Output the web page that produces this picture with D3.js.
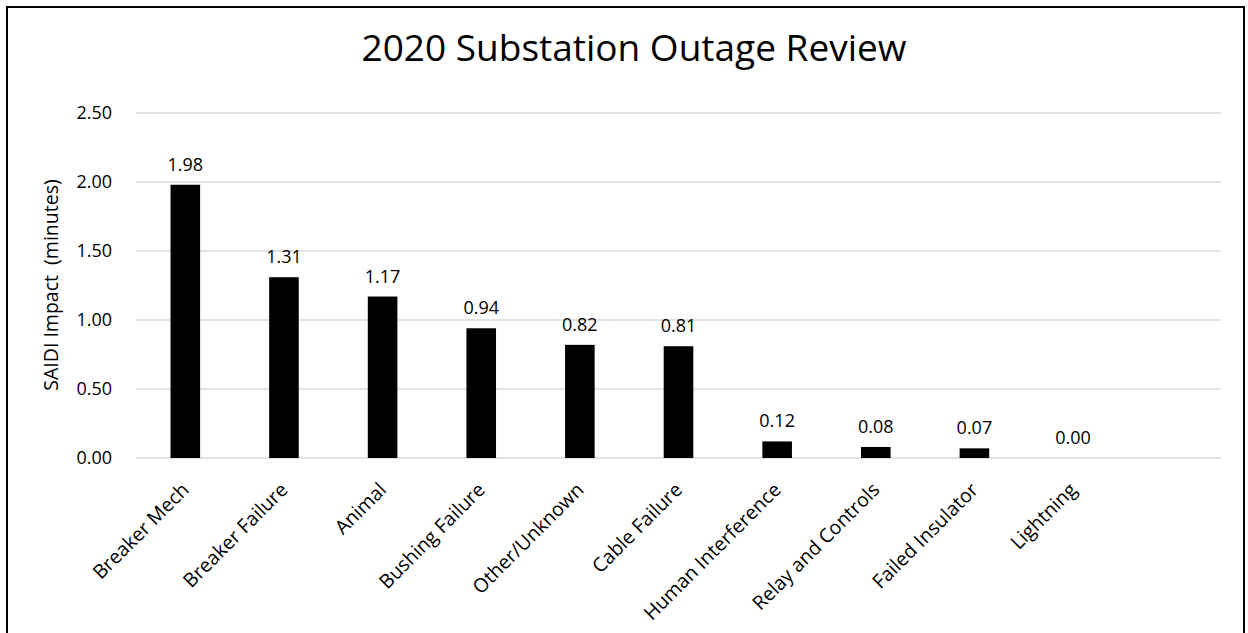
<!DOCTYPE html>
<html>
<head>
<meta charset="utf-8">
<script src="https://cdn.jsdelivr.net/npm/d3@7"></script>
<style>
  body { margin: 0; background: #fff; }
  text { font-family: "Open Sans", "Noto Sans", sans-serif; fill: #000; }
</style>
</head>
<body>
<div id="chart"></div>
<script>
// causes, in chart order; the last slot is empty in the original
const causes = ["Breaker Mech", "Breaker Failure", "Animal", "Bushing Failure", "Other/Unknown",
  "Cable Failure", "Human Interference", "Relay and Controls", "Failed Insulator", "Lightning", ""];
const saidi = [1.98, 1.31, 1.17, 0.94, 0.82, 0.81, 0.12, 0.08, 0.07, 0.00, null];
const yTicks = [0, 0.5, 1, 1.5, 2, 2.5];

const width = 1248, height = 633;
const margin = { top: 113, right: 27, bottom: 175, left: 136 };

const svg = d3.select("#chart").append("svg")
  .attr("width", width)
  .attr("height", height);

// frame round the chart
svg.append("rect")
  .attr("x", 7).attr("y", 7)
  .attr("width", 1237).attr("height", 640)
  .attr("fill", "none")
  .attr("stroke", "#000")
  .attr("stroke-width", 2);

const x = d3.scaleBand()
  .domain(d3.range(causes.length))
  .range([margin.left, width - margin.right])
  .paddingInner(0.7)
  .paddingOuter(0.35);

const y = d3.scaleLinear()
  .domain([0, 2.5])
  .range([height - margin.bottom, margin.top]);

// gridlines
svg.append("g")
  .selectAll("line")
  .data(yTicks)
  .join("line")
  .attr("x1", margin.left)
  .attr("x2", width - margin.right)
  .attr("y1", d => y(d))
  .attr("y2", d => y(d))
  .attr("stroke", "#d9d9d9")
  .attr("stroke-width", 1.5);

// y axis labels
svg.append("g")
  .attr("transform", `translate(${margin.left}, 0)`)
  .call(d3.axisLeft(y).tickValues(yTicks).tickFormat(d3.format(".2f")).tickSize(0).tickPadding(24))
  .call(g => g.select(".domain").remove())
  .selectAll("text")
  .attr("font-size", "18px")
  .attr("fill", "#222");

// x axis labels
svg.append("g")
  .attr("transform", `translate(0, ${height - margin.bottom})`)
  .call(d3.axisBottom(x).tickFormat(i => causes[i]).tickSize(0).tickPadding(0))
  .call(g => g.select(".domain").remove())
  .selectAll("text")
  .attr("font-size", "19.5px")
  .attr("fill", "#222")
  .attr("text-anchor", "end")
  .attr("dy", 0)
  .attr("transform", "translate(5, 33) rotate(-45)");

const bars = causes.map((c, i) => ({ i: i, v: saidi[i] })).filter(d => d.v !== null);

svg.append("g")
  .selectAll("rect")
  .data(bars)
  .join("rect")
  .attr("x", d => x(d.i))
  .attr("y", d => y(d.v))
  .attr("width", x.bandwidth())
  .attr("height", d => y(0) - y(d.v))
  .attr("fill", "#000");

svg.append("g")
  .selectAll("text")
  .data(bars)
  .join("text")
  .attr("x", d => x(d.i) + x.bandwidth() / 2)
  .attr("y", d => y(d.v) - 14)
  .attr("text-anchor", "middle")
  .attr("font-size", "18px")
  .attr("fill", "#222")
  .text(d => d.v.toFixed(2));

// y axis title
svg.append("text")
  .attr("transform", "translate(58, 285) rotate(-90)")
  .attr("text-anchor", "middle")
  .attr("font-size", "19.5px")
  .attr("fill", "#222")
  .attr("xml:space", "preserve")
  .text("SAIDI Impact  (minutes)");

// title
svg.append("text")
  .attr("x", 634)
  .attr("y", 61)
  .attr("text-anchor", "middle")
  .attr("font-size", "37px")
  .text("2020 Substation Outage Review");
</script>
</body>
</html>
